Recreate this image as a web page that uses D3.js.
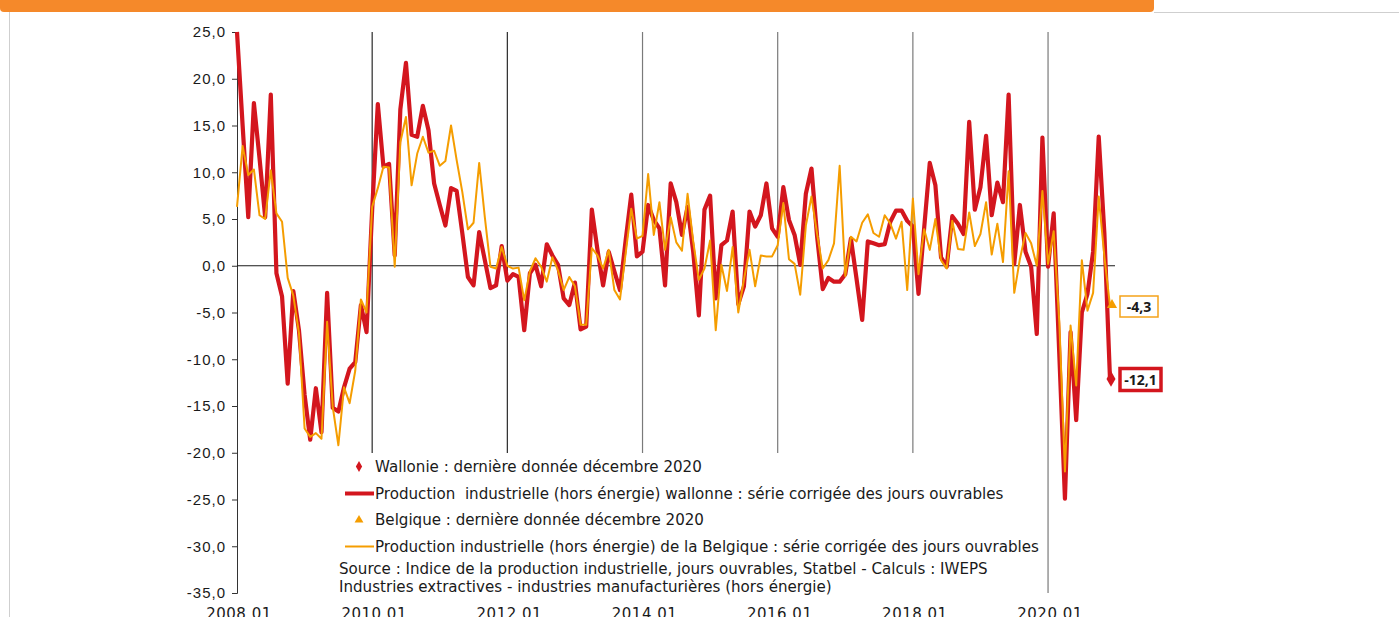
<!DOCTYPE html>
<html lang="fr">
<head>
<meta charset="UTF-8">
<title>Production industrielle (hors énergie)</title>
<script src="https://d3js.org/d3.v7.min.js"></script>
<style>
  body { margin: 0; background: #fff; }
  svg { display: block; font-family: "DejaVu Sans", sans-serif; }
  .ylab { font-size: 15px; fill: #1a1a1a; letter-spacing: 1px; }
  .xlab { font-size: 15px; fill: #1a1a1a; letter-spacing: 0.5px; }
  .leg { font-size: 15.1px; fill: #1a1a1a; }
  .endlab { font-family: "Open Sans", sans-serif; font-size: 14px; font-weight: 700; fill: #1a1a1a; }
</style>
</head>
<body>
<svg id="chart" width="1399" height="617"></svg>
<script>
// glissement annuel, série mensuelle 2008.01 -> 2020.12
const wallonie = [
  25.0, 15.0, 5.2, 17.4, 11.5, 5.2, 18.3, -0.8, -3.3, -12.6, -2.7, -6.9,
  -13.8, -18.6, -13.1, -17.8, -2.9, -15.2, -15.6, -13.0, -11.0, -10.3, -4.2, -7.1,
  6.0, 17.3, 10.6, 10.9, 1.1, 16.7, 21.7, 14.0, 13.8, 17.1, 14.5, 8.8,
  6.5, 4.3, 8.3, 8.0, 3.5, -1.2, -2.1, 3.6, 0.6, -2.4, -2.1, 2.1,
  -1.6, -0.9, -1.2, -6.9, -0.8, 0.1, -2.2, 2.3, 1.1, 0.1, -3.5, -4.2,
  -1.8, -6.8, -6.5, 6.0, 1.7, -2.1, 1.5, -0.6, -2.6, 2.7, 7.6, 1.0,
  1.5, 6.5, 4.9, 4.0, -2.1, 8.8, 6.8, 3.3, 6.3, 1.5, -5.3, 6.0,
  7.5, -3.5, 2.2, 2.7, 5.8, -4.1, -2.2, 5.8, 4.2, 5.4, 8.8, 4.0,
  3.1, 8.4, 4.9, 3.3, 0.1, 7.7, 10.4, 3.1, -2.5, -1.3, -1.7, -1.7,
  -0.9, 2.9, -1.4, -5.8, 2.6, 2.4, 2.2, 2.3, 4.7, 5.9, 5.9, 4.8,
  4.2, -3.0, 4.0, 11.0, 8.6, 0.9, -0.1, 5.3, 4.5, 3.4, 15.4, 6.0,
  8.4, 13.9, 5.4, 8.9, 6.8, 18.3, 0.2, 6.5, 1.5, -0.1, -7.3, 13.7,
  -0.1, 5.6, -9.5, -24.9, -7.1, -16.5, -5.0, -3.0, 1.5, 13.8, 3.5, -12.1
];
const belgique = [
  6.3, 12.8, 9.7, 10.3, 5.4, 5.0, 10.2, 5.6, 4.7, -1.3, -3.2, -7.2,
  -17.4, -18.3, -17.9, -18.5, -6.0, -15.1, -19.2, -13.0, -14.7, -11.2, -3.6, -5.0,
  6.3, 8.3, 10.6, 10.5, -0.1, 13.2, 15.9, 8.6, 12.0, 13.8, 12.1, 12.3,
  10.7, 11.2, 15.0, 11.3, 7.9, 3.9, 4.6, 11.0, 5.2, -0.1, -0.3, 2.0,
  0.0, -0.3, -0.2, -3.7, -0.6, 0.8, -0.1, -1.7, 0.9, -0.5, -2.6, -1.2,
  -2.2, -6.3, -6.3, 1.9, 1.1, -0.3, 1.7, -2.6, -3.6, 1.3, 6.1, 2.9,
  3.2, 9.8, 3.3, 6.8, 1.7, 5.2, 2.5, 1.6, 7.7, 2.6, -1.5, -0.3,
  2.7, -6.9, 0.1, -2.7, 2.0, -5.0, -1.5, 1.7, -2.2, 1.1, 1.0, 1.0,
  2.2, 6.7, 0.7, 0.2, -3.1, 4.3, 7.4, 3.4, -0.3, 0.6, 2.4, 10.7,
  -1.1, 3.1, 2.6, 4.6, 5.5, 3.5, 3.1, 5.4, 4.5, 2.9, 4.7, -2.6,
  7.2, -0.9, 3.9, 1.7, 5.0, 0.6, -0.3, 4.8, 1.8, 1.7, 5.7, 2.1,
  3.4, 6.8, 1.2, 4.5, 0.4, 10.1, -2.9, 0.7, 3.5, 2.4, 0.0, 8.0,
  0.2, 3.7, -6.0, -22.0, -6.4, -12.8, 0.6, -4.8, -2.9, 7.4, 1.0, -4.3
];
const years = [2008, 2009, 2010, 2011, 2012, 2013, 2014, 2015, 2016, 2017, 2018, 2019, 2020];
const months = years.flatMap(y => d3.range(1, 13).map(m => y + "." + String(m).padStart(2, "0")));
const xTickLabels = ["2008.01", "2010.01", "2012.01", "2014.01", "2016.01", "2018.01", "2020.01"];
const yTicks = [25, 20, 15, 10, 5, 0, -5, -10, -15, -20, -25, -30, -35];
const legendLines = [
  { kind: "diamond", text: "Wallonie : dernière donnée décembre 2020" },
  { kind: "redline", text: "Production  industrielle (hors énergie) wallonne : série corrigée des jours ouvrables" },
  { kind: "triangle", text: "Belgique : dernière donnée décembre 2020" },
  { kind: "orangeline", text: "Production industrielle (hors énergie) de la Belgique : série corrigée des jours ouvrables" }
];
const sourceLines = [
  "Source : Indice de la production industrielle, jours ouvrables, Statbel - Calculs : IWEPS",
  "Industries extractives - industries manufacturières (hors énergie)"
];

const RED = "#d3161e", ORANGE = "#f59d00";
const svg = d3.select("#chart");
const fmt = v => d3.format(".1f")(v).replace(".", ",").replace("−", "-");

// bandeau du haut
svg.append("rect").attr("x", 0).attr("y", -10).attr("width", 1154).attr("height", 22)
  .attr("rx", 4).attr("fill", "#f5892a");
svg.append("line").attr("x1", 9.5).attr("x2", 9.5).attr("y1", 12).attr("y2", 617)
  .attr("stroke", "#cfcfcf").attr("stroke-width", 1);
svg.append("line").attr("x1", 1154).attr("x2", 1399).attr("y1", 12.5).attr("y2", 12.5)
  .attr("stroke", "#cfcfcf").attr("stroke-width", 1);

const x = d3.scalePoint().domain(months).range([237, 1110]);
const y = d3.scaleLinear().domain([-35, 25]).range([593, 32]);

// lignes verticales annuelles
const vIdx = xTickLabels.slice(1);
svg.selectAll(".vline").data(vIdx).enter().append("line")
  .attr("x1", d => x(d)).attr("x2", d => x(d))
  .attr("y1", y(25)).attr("y2", d => d === "2020.01" ? y(-35) : 453)
  .attr("stroke", (d, i) => i < 2 ? "#2a2a2a" : "#7a7a7a").attr("stroke-width", 1.2);

// axe Y
const yAxis = d3.axisLeft(y).tickValues(yTicks).tickSize(5).tickPadding(6).tickFormat(fmt);
const gy = svg.append("g").attr("transform", "translate(237,0)").call(yAxis);
gy.select(".domain").attr("stroke", "#333");
gy.selectAll(".tick line").attr("stroke", "#333");
gy.selectAll("text").attr("class", "ylab").attr("font-family", null).attr("font-size", null);

// ligne zéro
svg.append("line").attr("x1", 237).attr("x2", 1115).attr("y1", y(0)).attr("y2", y(0))
  .attr("stroke", "#1a1a1a").attr("stroke-width", 1);

// étiquettes X
svg.selectAll(".xlab").data(xTickLabels).enter().append("text")
  .attr("class", "xlab").attr("x", d => x(d) + 2).attr("y", 619).attr("text-anchor", "middle")
  .text(d => d);

// séries
const line = d3.line().x((d, i) => x(months[i])).y(d => y(d));
svg.append("path").datum(wallonie).attr("d", line).attr("fill", "none")
  .attr("stroke", RED).attr("stroke-width", 4.2).attr("stroke-linejoin", "round");
svg.append("path").datum(belgique).attr("d", line).attr("fill", "none")
  .attr("stroke", ORANGE).attr("stroke-width", 2).attr("stroke-linejoin", "round");

// dernières données
const last = months.length - 1;
const lx = x(months[last]);
svg.append("path").attr("d", d3.symbol(d3.symbolDiamond, 70)())
  .attr("transform", `translate(${lx + 1},${y(wallonie[last])})`).attr("fill", RED);
svg.append("path").attr("d", d3.symbol(d3.symbolTriangle, 45)())
  .attr("transform", `translate(${lx + 2},${y(belgique[last]) - 1})`).attr("fill", ORANGE);

function endLabel(v, yc, color, sw, w, h) {
  const g = svg.append("g").attr("transform", `translate(${lx + 10},${yc})`);
  g.append("rect").attr("x", 0).attr("y", -h / 2).attr("width", w).attr("height", h)
    .attr("fill", "#fff").attr("stroke", color).attr("stroke-width", sw);
  g.append("text").attr("class", "endlab").attr("x", w / 2).attr("y", 0)
    .attr("dy", "0.36em").attr("text-anchor", "middle").text(fmt(v));
}
endLabel(belgique[last], 306.5, "#f5a31a", 1.5, 38, 21);
endLabel(wallonie[last], 379.5, RED, 3.5, 41, 22);

// légende
svg.append("rect").attr("x", 340).attr("y", 454).attr("width", 700).attr("height", 138).attr("fill", "#fff");
const legY = [466.5, 493.5, 520, 546.5];
legendLines.forEach((d, i) => {
  const cy = legY[i];
  if (d.kind === "diamond") {
    svg.append("path").attr("d", d3.symbol(d3.symbolDiamond, 34)())
      .attr("transform", `translate(359,${cy})`).attr("fill", RED);
  } else if (d.kind === "triangle") {
    svg.append("path").attr("d", d3.symbol(d3.symbolTriangle, 34)())
      .attr("transform", `translate(359,${cy})`).attr("fill", ORANGE);
  } else {
    svg.append("line").attr("x1", 345).attr("x2", 374).attr("y1", cy).attr("y2", cy)
      .attr("stroke", d.kind === "redline" ? RED : ORANGE)
      .attr("stroke-width", d.kind === "redline" ? 4 : 2);
  }
  svg.append("text").attr("class", "leg").attr("x", 375).attr("y", cy).attr("dy", "0.36em")
    .attr("xml:space", "preserve").style("white-space", "pre").text(d.text);
});
sourceLines.forEach((t, i) => {
  svg.append("text").attr("class", "leg").attr("x", 339).attr("y", 568.5 + i * 18.5)
    .attr("dy", "0.36em").text(t);
});
</script>
</body>
</html>
